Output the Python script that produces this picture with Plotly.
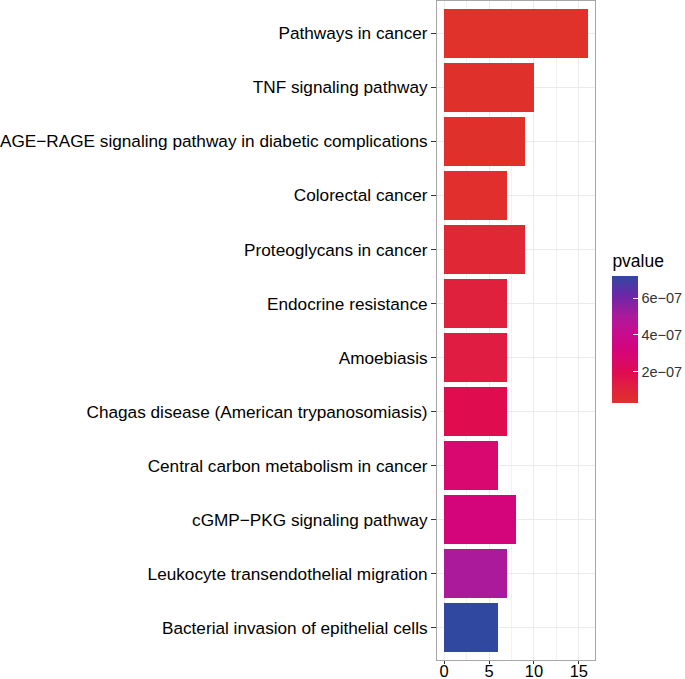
import plotly.graph_objects as go

categories = [
    "Pathways in cancer",
    "TNF signaling pathway",
    "AGE\u2212RAGE signaling pathway in diabetic complications",
    "Colorectal cancer",
    "Proteoglycans in cancer",
    "Endocrine resistance",
    "Amoebiasis",
    "Chagas disease (American trypanosomiasis)",
    "Central carbon metabolism in cancer",
    "cGMP\u2212PKG signaling pathway",
    "Leukocyte transendothelial migration",
    "Bacterial invasion of epithelial cells",
]
counts = [16, 10, 9, 7, 9, 7, 7, 7, 6, 8, 7, 6]
pvalues = [2.9e-08, 3.2e-08, 3.5e-08, 3.8e-08, 8.0e-08, 1.1e-07, 1.3e-07,
           1.9e-07, 2.8e-07, 3.2e-07, 5.0e-07, 7.2e-07]

cbar_tickvals = [2e-07, 4e-07, 6e-07]
cbar_ticktext = ["2e\u221207", "4e\u221207", "6e\u221207"]

colorscale = [
    [0.0, "#E0312A"],
    [0.12, "#E0213E"],
    [0.233, "#E00C50"],
    [0.363, "#D80870"],
    [0.421, "#D4047A"],
    [0.55, "#C80C90"],
    [0.681, "#AB1A9A"],
    [0.85, "#6A28A8"],
    [1.0, "#3048A0"],
]

fig = go.Figure(go.Bar(
    x=counts,
    y=categories,
    orientation="h",
    width=0.9,
    marker=dict(
        color=pvalues,
        colorscale=colorscale,
        cmin=min(pvalues),
        cmax=max(pvalues),
        line=dict(width=0),
        colorbar=dict(
            title=dict(text="pvalue", side="top", font=dict(size=17.5, color="black")),
            tickvals=cbar_tickvals,
            ticktext=cbar_ticktext,
            ticks="inside",
            ticklen=5,
            tickcolor="white",
            tickfont=dict(size=14.5, color="#333333"),
            thickness=26,
            lenmode="pixels",
            len=152,
            x=1.11,
            xanchor="left",
            y=0.390,
            yanchor="bottom",
            xpad=0,
            ypad=0,
            outlinewidth=0,
        ),
    ),
    showlegend=False,
))

fig.update_layout(
    width=685,
    height=679,
    margin=dict(l=437, r=90, t=1, b=19, autoexpand=False),
    paper_bgcolor="white",
    plot_bgcolor="white",
    font=dict(family="Liberation Sans, Arial, sans-serif", color="black"),
    bargap=0,
)

fig.update_xaxes(
    automargin=False,
    range=[-0.8, 16.8],
    tickvals=[0, 5, 10, 15],
    ticks="outside",
    ticklen=3,
    tickcolor="#333333",
    tickfont=dict(size=16.5, color="black"),
    ticklabelstandoff=-7,
    showgrid=True,
    gridcolor="#EBEBEB",
    gridwidth=1,
    minor=dict(tickvals=[2.5, 7.5, 12.5], showgrid=True, gridcolor="#F2F2F2", gridwidth=0.6),
    zeroline=False,
    showline=True,
    linecolor="#A6A6A6",
    linewidth=1,
    mirror=True,
)
fig.update_yaxes(
    automargin=False,
    categoryorder="array",
    categoryarray=categories[::-1],
    range=[-0.6, 11.6],
    ticks="outside",
    ticklen=5,
    tickcolor="#333333",
    tickfont=dict(size=17.2, color="black"),
    showgrid=True,
    gridcolor="#EBEBEB",
    gridwidth=1,
    zeroline=False,
    showline=True,
    linecolor="#A6A6A6",
    linewidth=1,
    mirror=True,
)

fig.write_html(
    "out.html",
    config={"displayModeBar": False},
    post_script="document.body.style.margin='0';document.body.style.overflow='hidden';",
)
